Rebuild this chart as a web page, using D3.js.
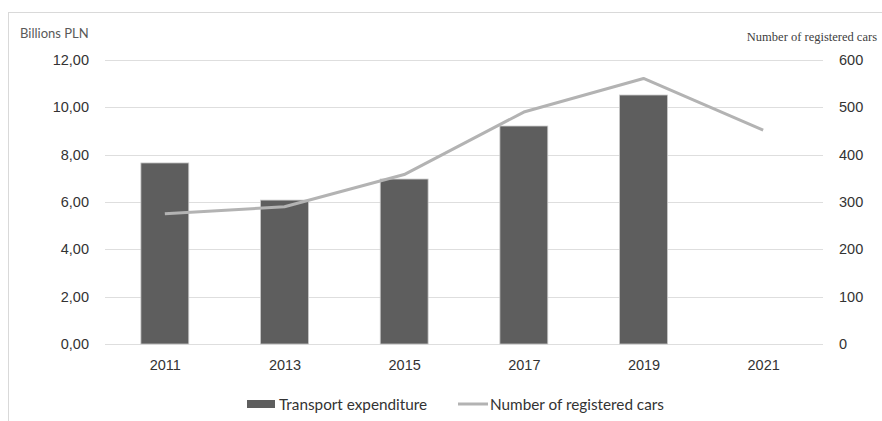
<!DOCTYPE html>
<html lang="en">
  <head>
    <meta charset="UTF-8" />
    <title>Transport expenditure and registered cars</title>
    <style>
      body { margin: 0; background: #fff; }
      svg { display: block; font-family: Lato, 'Open Sans', sans-serif; }
      .grid line { stroke: #dedede; stroke-width: 1; }
      .tick text { fill: #333; font-size: 14.5px; }
    </style>
  </head>
  <body>
    <svg width="882" height="421"></svg>
    <script src="https://d3js.org/d3.v7.min.js"></script>
    <script>
      const years = ['2011', '2013', '2015', '2017', '2019', '2021'];
      const expenditure = [7.65, 6.08, 6.97, 9.21, 10.52, null];
      const cars = [275, 290, 358, 490, 561, 452];
      const leftTicks = [0, 2, 4, 6, 8, 10, 12];
      const rightTicks = [0, 100, 200, 300, 400, 500, 600];

      const svg = d3.select('svg');
      const plotTop = 60, plotBottom = 344, plotLeft = 105, plotRight = 823;

      // chart frame, cut off at right and bottom like the source image
      svg.append('rect')
        .attr('x', 8.5).attr('y', 12.5)
        .attr('width', 900).attr('height', 450)
        .attr('fill', 'none').attr('stroke', '#d9d9d9');

      const x = d3.scaleBand().domain(years).range([plotLeft, plotRight])
        .paddingInner(0.6).paddingOuter(0.3);
      const xc = d3.scalePoint().domain(years).range([plotLeft, plotRight]).padding(0.5);
      const yL = d3.scaleLinear().domain([0, 12]).range([plotBottom, plotTop]);
      const yR = d3.scaleLinear().domain([0, 600]).range([plotBottom, plotTop]);

      const grid = svg.append('g').attr('class', 'grid');
      grid.selectAll('line').data(leftTicks).join('line')
        .attr('x1', plotLeft).attr('x2', plotRight)
        .attr('y1', d => Math.round(yL(d)) + 0.5)
        .attr('y2', d => Math.round(yL(d)) + 0.5);

      svg.append('g')
        .attr('transform', `translate(${plotLeft - 3},0)`)
        .call(d3.axisLeft(yL).tickValues(leftTicks).tickSize(0).tickPadding(13)
          .tickFormat(d => d3.format('.2f')(d).replace('.', ',')))
        .call(g => g.select('.domain').remove());

      svg.append('g')
        .attr('transform', `translate(${plotRight + 4},0)`)
        .call(d3.axisRight(yR).tickValues(rightTicks).tickSize(0).tickPadding(12))
        .call(g => g.select('.domain').remove());

      svg.append('g')
        .attr('transform', `translate(0,${plotBottom})`)
        .call(d3.axisBottom(xc).tickSize(0).tickPadding(16))
        .call(g => g.select('.domain').remove());

      svg.append('g').selectAll('rect')
        .data(years.map((y, i) => ({ year: y, v: expenditure[i] })).filter(d => d.v != null))
        .join('rect')
        .attr('x', d => x(d.year))
        .attr('y', d => yL(d.v))
        .attr('width', x.bandwidth())
        .attr('height', d => plotBottom - yL(d.v))
        .attr('fill', '#5e5e5e')
        .attr('stroke', '#c8c8c8').attr('stroke-width', 0.8);

      const line = d3.line()
        .x((d, i) => xc(years[i]))
        .y(d => yR(d));
      svg.append('path')
        .datum(cars)
        .attr('d', line)
        .attr('fill', 'none')
        .attr('stroke', '#b3b3b3')
        .attr('stroke-width', 3)
        .attr('stroke-linejoin', 'round');

      svg.append('text')
        .attr('x', 20).attr('y', 38)
        .attr('fill', '#595959').attr('font-size', 13)
        .text('Billions PLN');

      svg.append('text')
        .attr('x', 877).attr('y', 41)
        .attr('text-anchor', 'end')
        .attr('fill', '#404040').attr('font-size', 12.5)
        .attr('font-family', "'Liberation Serif', 'DejaVu Serif', serif")
        .text('Number of registered cars');

      // legend
      const lg = svg.append('g').attr('font-size', 15.3).attr('fill', '#333');
      lg.append('rect')
        .attr('x', 247).attr('y', 400).attr('width', 28).attr('height', 8)
        .attr('fill', '#5e5e5e');
      lg.append('text').attr('x', 279).attr('y', 409.5).text('Transport expenditure');
      lg.append('line')
        .attr('x1', 458).attr('x2', 488).attr('y1', 404).attr('y2', 404)
        .attr('stroke', '#b3b3b3').attr('stroke-width', 3);
      lg.append('text').attr('x', 490).attr('y', 409.5).text('Number of registered cars');
    </script>
  </body>
</html>
